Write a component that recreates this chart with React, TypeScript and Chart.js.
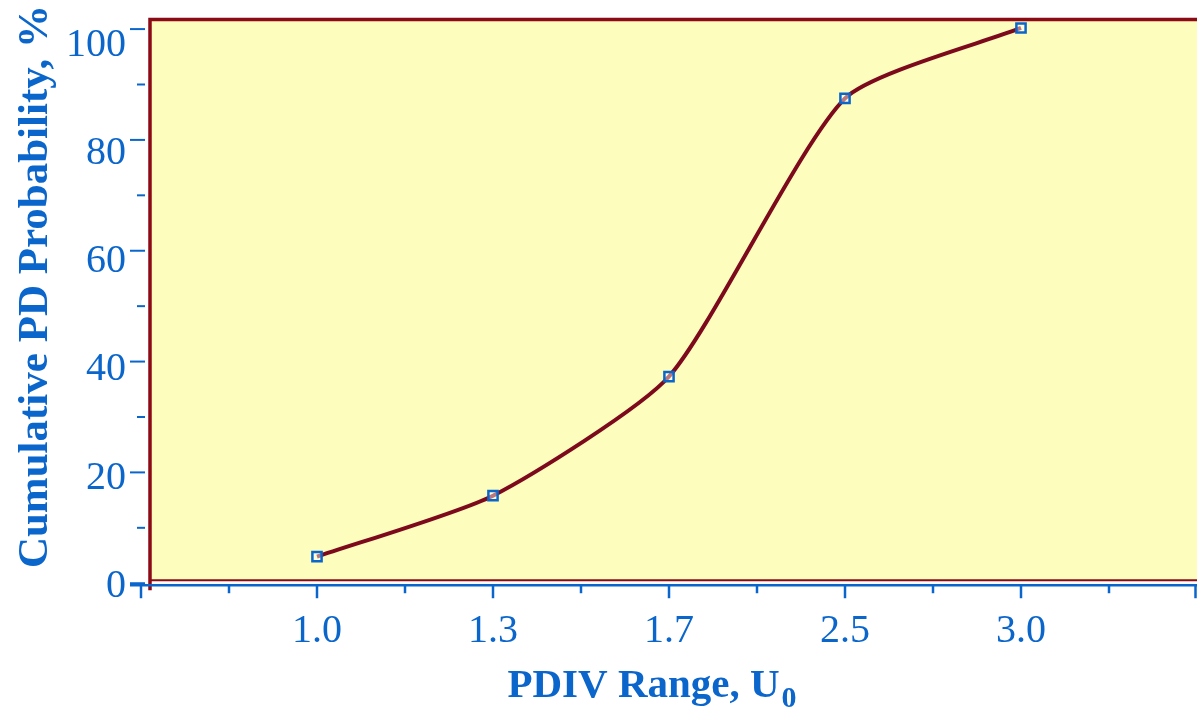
import React, { useEffect, useRef } from "react";
import { Chart, registerables } from "chart.js";

Chart.register(...registerables);

// ---- data ----
const categories = ["1.0", "1.3", "1.7", "2.5", "3.0"];
const probability = [4.8, 15.8, 37.3, 87.5, 100.2];
const yTickValues = [0, 20, 40, 60, 80, 100];
const yTitle = "Cumulative PD Probability, %";
const xTitleMain = "PDIV Range, U";
const xTitleSub = "0";

// ---- styles ----
const BLUE = "#0b66cc";
const RED = "#8c0a16";
const LINE = "#7d0a1c";
const FILL = "#fdfdbd";
const SERIF = '"Liberation Serif", "Times New Roman", serif';

const deco = {
  id: "deco",
  beforeDatasetsDraw(chart: any) {
    const { ctx, chartArea: ca, scales } = chart;
    const y = scales.y;
    const y0 = y.getPixelForValue(0);
    const left = ca.left + 9;
    const top = ca.top + 1.5;
    const bottom = y0 - 3;
    const right = ca.right;
    ctx.save();
    ctx.fillStyle = FILL;
    ctx.fillRect(left, top, right - left, bottom - top);
    ctx.strokeStyle = RED;
    ctx.lineWidth = 2;
    ctx.beginPath();
    ctx.moveTo(left, bottom);
    ctx.lineTo(right, bottom);
    ctx.stroke();
    ctx.lineWidth = 3.5;
    ctx.beginPath();
    ctx.moveTo(left, y0 + 7);
    ctx.lineTo(left, top);
    ctx.lineTo(right, top);
    ctx.stroke();
    ctx.restore();
  },
  afterDraw(chart: any) {
    const { ctx, chartArea: ca, scales } = chart;
    const x = scales.x;
    const y = scales.y;
    const y0 = y.getPixelForValue(0);
    const axisY = y0 + 2;
    ctx.save();
    // x axis line
    ctx.strokeStyle = BLUE;
    ctx.lineWidth = 2.5;
    ctx.beginPath();
    ctx.moveTo(ca.left - 11, axisY);
    ctx.lineTo(ca.right, axisY);
    ctx.stroke();
    // x ticks
    for (let v = 0; v <= 6; v += 0.5) {
      const px = Math.min(x.getPixelForValue(v), ca.right - 1.5);
      const len = Number.isInteger(v) ? 13 : 8;
      ctx.beginPath();
      ctx.moveTo(px, axisY);
      ctx.lineTo(px, axisY + len);
      ctx.stroke();
    }
    // y ticks
    ctx.lineWidth = 2;
    for (let v = 0; v <= 100; v += 10) {
      const py = y.getPixelForValue(v);
      const major = v % 20 === 0;
      ctx.beginPath();
      ctx.moveTo(major ? ca.left - 11 : ca.left - 4, py);
      ctx.lineTo(ca.left + 4, py);
      ctx.stroke();
    }
    // x labels
    ctx.fillStyle = BLUE;
    ctx.font = `40px ${SERIF}`;
    ctx.textAlign = "center";
    ctx.textBaseline = "alphabetic";
    categories.forEach((c, i) => {
      ctx.fillText(c, x.getPixelForValue(i + 1), axisY + 57);
    });
    // y labels
    ctx.textAlign = "right";
    yTickValues.forEach((v) => {
      ctx.fillText(String(v), ca.left - 15, y.getPixelForValue(v * 0.976) + 13.5);
    });
    // x title with subscript
    ctx.font = `bold 41px ${SERIF}`;
    const wMain = ctx.measureText(xTitleMain).width;
    ctx.font = `bold 30px ${SERIF}`;
    const wSub = ctx.measureText(xTitleSub).width;
    const cx = (ca.left + ca.right) / 2 - 17;
    const startX = cx - (wMain + wSub + 2) / 2;
    ctx.textAlign = "left";
    ctx.font = `bold 41px ${SERIF}`;
    ctx.fillText(xTitleMain, startX, axisY + 112);
    ctx.font = `bold 30px ${SERIF}`;
    ctx.fillText(xTitleSub, startX + wMain + 2, axisY + 122);
    // y title
    ctx.translate(47, (ca.top + y0) / 2 - 14);
    ctx.rotate(-Math.PI / 2);
    ctx.textAlign = "center";
    ctx.font = `bold 43px ${SERIF}`;
    ctx.fillText(yTitle, 0, 0);
    ctx.restore();
  },
};

export default function App() {
  const ref = useRef<HTMLCanvasElement | null>(null);
  useEffect(() => {
    document.body.style.margin = "0";
    document.body.style.overflow = "hidden";
    document.documentElement.style.overflow = "hidden";
    const canvas = ref.current;
    if (!canvas) return;
    const chart = new Chart(canvas, {
      type: "line",
      data: {
        datasets: [
          {
            data: categories.map((c, i) => ({ x: i + 1, y: probability[i] })),
            borderColor: LINE,
            borderWidth: 4,
            tension: 0.2,
            pointStyle: "rect",
            pointRadius: 6.5,
            pointBorderColor: BLUE,
            pointBorderWidth: 2.5,
            pointBackgroundColor: "rgba(255,255,255,0.45)",
            fill: false,
            clip: false,
          },
        ],
      },
      options: {
        animation: false,
        responsive: false,
        devicePixelRatio: 1,
        layout: {
          autoPadding: false,
          padding: { left: 141, right: 0, top: 18, bottom: 124 },
        },
        plugins: { legend: { display: false }, tooltip: { enabled: false } },
        scales: {
          x: { type: "linear", min: 0, max: 6, display: false },
          y: { type: "linear", min: -0.5, max: 102, display: false },
        },
      },
      plugins: [deco],
    } as any);
    return () => chart.destroy();
  }, []);
  return (
    <div style={{ width: 1197, height: 710, overflow: "hidden" }}>
      <canvas
        ref={ref}
        width={1197}
        height={710}
        style={{ display: "block", width: 1197, height: 710 }}
      />
    </div>
  );
}
